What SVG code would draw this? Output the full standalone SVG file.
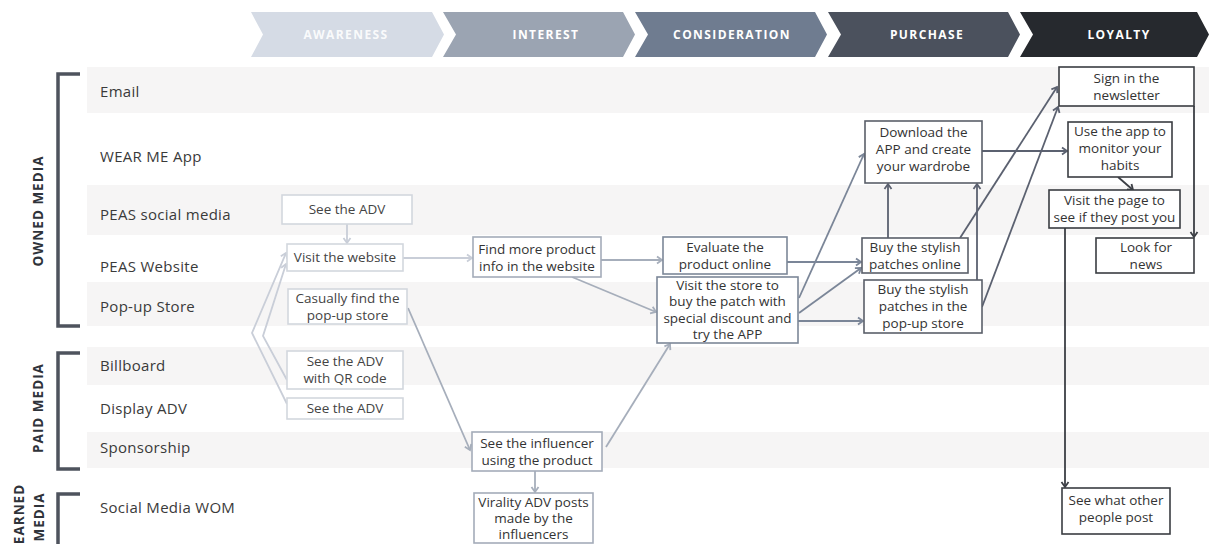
<svg xmlns="http://www.w3.org/2000/svg" width="1209" height="544" viewBox="0 0 1209 544">
  <style>
    .band { fill: #f6f5f5; }
    .row { font-family: "Open Sans", "Noto Sans", sans-serif; font-size: 15px; fill: #3a3a3a; letter-spacing: 0.3px; }
    .stage { font-family: "Open Sans", "Noto Sans", sans-serif; font-size: 12px; font-weight: 700; fill: #ffffff; text-anchor: middle; letter-spacing: 1.4px; }
    .group { font-family: "Open Sans", "Noto Sans", sans-serif; font-size: 13.5px; font-weight: 700; fill: #2f333a; text-anchor: middle; letter-spacing: 1px; }
    .bracket { fill: none; stroke: #4e535d; stroke-width: 3.5; }
    .box { fill: #ffffff; stroke-width: 1.6; }
    .aw { stroke: #d3d7de; }
    .in { stroke: #a4acb9; }
    .co { stroke: #7c8798; }
    .pu { stroke: #5a5f69; }
    .lo { stroke: #3a3d42; }
    .lbl { font-family: "Open Sans", "Noto Sans", sans-serif; font-size: 13.5px; fill: #333333; text-anchor: middle; }
    .lbl.light { fill: #444444; }
    .edge { fill: none; stroke-width: 1.8; }
    .e1 { stroke: #c9ced8; marker-end: url(#ah1); }
    .e2 { stroke: #a6aebb; marker-end: url(#ah2); }
    .e3 { stroke: #7b8698; marker-end: url(#ah3); }
    .e4 { stroke: #5b6170; marker-end: url(#ah4); }
    .e5 { stroke: #3c3f45; marker-end: url(#ah5); }
  </style>
  <defs>
    <marker id="ah1" markerWidth="10" markerHeight="10" refX="8" refY="5" orient="auto" markerUnits="userSpaceOnUse"><path d="M3,1.5 L8,5 L3,8.5" fill="none" stroke="#c9ced8" stroke-width="1.8"/></marker>
    <marker id="ah2" markerWidth="10" markerHeight="10" refX="8" refY="5" orient="auto" markerUnits="userSpaceOnUse"><path d="M3,1.5 L8,5 L3,8.5" fill="none" stroke="#a6aebb" stroke-width="1.8"/></marker>
    <marker id="ah3" markerWidth="10" markerHeight="10" refX="8" refY="5" orient="auto" markerUnits="userSpaceOnUse"><path d="M3,1.5 L8,5 L3,8.5" fill="none" stroke="#7b8698" stroke-width="1.8"/></marker>
    <marker id="ah4" markerWidth="10" markerHeight="10" refX="8" refY="5" orient="auto" markerUnits="userSpaceOnUse"><path d="M3,1.5 L8,5 L3,8.5" fill="none" stroke="#5b6170" stroke-width="1.8"/></marker>
    <marker id="ah5" markerWidth="10" markerHeight="10" refX="8" refY="5" orient="auto" markerUnits="userSpaceOnUse"><path d="M3,1.5 L8,5 L3,8.5" fill="none" stroke="#3c3f45" stroke-width="1.8"/></marker>
  </defs>

  <rect width="1209" height="544" fill="#ffffff"/>

  <!-- row bands -->
  <g id="bands">
    <rect class="band" x="87" y="67" width="1122" height="46"/>
    <rect class="band" x="87" y="185" width="1122" height="50"/>
    <rect class="band" x="87" y="282" width="1122" height="44"/>
    <rect class="band" x="87" y="347" width="1122" height="38"/>
    <rect class="band" x="87" y="432" width="1122" height="36"/>
  </g>

  <!-- stage chevrons -->
  <g id="stages">
    <path d="M251,12 H432 L444,34.5 L432,57 H251 L263,34.5 Z" fill="#d5dbe5"/>
    <text class="stage" x="346" y="39" fill-opacity="0.9">AWARENESS</text>
    <path d="M443,12 H623 L635,34.5 L623,57 H443 L456,34.5 Z" fill="#9ba4b2"/>
    <text class="stage" x="546" y="39">INTEREST</text>
    <path d="M635,12 H815 L827,34.5 L815,57 H635 L648,34.5 Z" fill="#6f7c90"/>
    <text class="stage" x="732" y="39">CONSIDERATION</text>
    <path d="M828,12 H1008 L1020,34.5 L1008,57 H828 L841,34.5 Z" fill="#4b515d"/>
    <text class="stage" x="927" y="39">PURCHASE</text>
    <path d="M1020,12 H1197 L1209,34.5 L1197,57 H1020 L1033,34.5 Z" fill="#26292e"/>
    <text class="stage" x="1119" y="39">LOYALTY</text>
  </g>

  <!-- row labels -->
  <g id="rows">
    <text class="row" x="100" y="97">Email</text>
    <text class="row" x="100" y="162">WEAR ME App</text>
    <text class="row" x="100" y="220">PEAS social media</text>
    <text class="row" x="100" y="272">PEAS Website</text>
    <text class="row" x="100" y="312">Pop-up Store</text>
    <text class="row" x="100" y="371">Billboard</text>
    <text class="row" x="100" y="414">Display ADV</text>
    <text class="row" x="100" y="453">Sponsorship</text>
    <text class="row" x="100" y="513">Social Media WOM</text>
  </g>

  <!-- media groups -->
  <g id="owned-media">
    <path class="bracket" d="M80,74 H58 V326 H80"/>
    <text class="group" transform="translate(43,211) rotate(-90)">OWNED MEDIA</text>
  </g>
  <g id="paid-media">
    <path class="bracket" d="M80,353 H58 V469 H80"/>
    <text class="group" transform="translate(43,408) rotate(-90)">PAID MEDIA</text>
  </g>
  <g id="earned-media">
    <path class="bracket" d="M80,494 H58 V546"/>
    <text class="group" transform="translate(24,514) rotate(-90)">EARNED</text>
    <text class="group" transform="translate(44,517) rotate(-90)">MEDIA</text>
  </g>

  <!-- connectors -->
  <g id="connectors">
    <path class="edge e1" d="M347,224 V243"/>
    <path class="edge e1" d="M287,404 L252,333 L286,253"/>
    <path class="edge e1" d="M287,380 L263,336 L286,264"/>
    <path class="edge e1" d="M403,258 H472"/>
    <path class="edge e2" d="M408,308 L470,450"/>
    <path class="edge e2" d="M601,260 H662"/>
    <path class="edge e2" d="M572,277 L656,312"/>
    <path class="edge e2" d="M606,447 L670,344"/>
    <path class="edge e2" d="M535,471 V492"/>
    <path class="edge e3" d="M787,262 H861"/>
    <path class="edge e3" d="M799,298 L864,154"/>
    <path class="edge e3" d="M799,313 L861,268"/>
    <path class="edge e3" d="M798,321 H863"/>
    <path class="edge e4" d="M888,238 V184"/>
    <path class="edge e4" d="M977,280 V184"/>
    <path class="edge e4" d="M982,151 H1067"/>
    <path class="edge e4" d="M960,238 L1057,87"/>
    <path class="edge e4" d="M982,307 L1058,107"/>
    <path class="edge e5" d="M1118,177 L1133,190"/>
    <path class="edge e5" d="M1194,106 V237"/>
    <path class="edge e5" d="M1065,228 V487"/>
  </g>

  <!-- awareness -->
  <g id="see-adv-social">
    <rect class="box aw" x="282" y="195" width="130" height="29"/>
    <text class="lbl light" x="347" y="214">See the ADV</text>
  </g>
  <g id="visit-website">
    <rect class="box aw" x="287" y="244" width="116" height="27"/>
    <text class="lbl light" x="345" y="262">Visit the website</text>
  </g>
  <g id="find-popup">
    <rect class="box aw" x="288" y="289" width="119" height="35"/>
    <text class="lbl light" x="347.5" y="303">Casually find the</text>
    <text class="lbl light" x="347.5" y="320">pop-up store</text>
  </g>
  <g id="see-adv-qr">
    <rect class="box aw" x="287" y="351" width="116" height="38"/>
    <text class="lbl light" x="345" y="366">See the ADV</text>
    <text class="lbl light" x="345" y="383">with QR code</text>
  </g>
  <g id="see-adv-display">
    <rect class="box aw" x="287" y="398" width="116" height="21"/>
    <text class="lbl light" x="345" y="413">See the ADV</text>
  </g>

  <!-- interest -->
  <g id="find-info">
    <rect class="box in" x="473" y="237" width="128" height="40"/>
    <text class="lbl" x="537" y="254">Find more product</text>
    <text class="lbl" x="537" y="271">info in the website</text>
  </g>
  <g id="see-influencer">
    <rect class="box in" x="472" y="432" width="130" height="39"/>
    <text class="lbl" x="537" y="448">See the influencer</text>
    <text class="lbl" x="537" y="465">using the product</text>
  </g>
  <g id="virality-posts">
    <rect class="box in" x="474" y="493" width="119" height="50"/>
    <text class="lbl" x="533.5" y="507">Virality ADV posts</text>
    <text class="lbl" x="533.5" y="523">made by the</text>
    <text class="lbl" x="533.5" y="539">influencers</text>
  </g>

  <!-- consideration -->
  <g id="evaluate-online">
    <rect class="box co" x="663" y="237" width="124" height="37"/>
    <text class="lbl" x="725" y="252">Evaluate the</text>
    <text class="lbl" x="725" y="269">product online</text>
  </g>
  <g id="visit-store">
    <rect class="box co" x="657" y="277" width="141" height="66"/>
    <text class="lbl" x="727.5" y="290">Visit the store to</text>
    <text class="lbl" x="727.5" y="306">buy the patch with</text>
    <text class="lbl" x="727.5" y="323">special discount and</text>
    <text class="lbl" x="727.5" y="339">try the APP</text>
  </g>

  <!-- purchase -->
  <g id="download-app">
    <rect class="box pu" x="865" y="121" width="117" height="62"/>
    <text class="lbl" x="923.5" y="137">Download the</text>
    <text class="lbl" x="923.5" y="154">APP and create</text>
    <text class="lbl" x="923.5" y="171">your wardrobe</text>
  </g>
  <g id="buy-online">
    <rect class="box pu" x="862" y="238" width="106" height="35"/>
    <text class="lbl" x="915" y="252">Buy the stylish</text>
    <text class="lbl" x="915" y="269">patches online</text>
  </g>
  <g id="buy-popup">
    <rect class="box pu" x="864" y="280" width="118" height="53"/>
    <text class="lbl" x="923" y="294">Buy the stylish</text>
    <text class="lbl" x="923" y="311">patches in the</text>
    <text class="lbl" x="923" y="328">pop-up store</text>
  </g>

  <!-- loyalty -->
  <g id="newsletter">
    <rect class="box lo" x="1059" y="67" width="135" height="39"/>
    <text class="lbl" x="1126.5" y="83">Sign in the</text>
    <text class="lbl" x="1126.5" y="100">newsletter</text>
  </g>
  <g id="monitor-habits">
    <rect class="box lo" x="1068" y="122" width="104" height="55"/>
    <text class="lbl" x="1120" y="136">Use the app to</text>
    <text class="lbl" x="1120" y="153">monitor your</text>
    <text class="lbl" x="1120" y="170">habits</text>
  </g>
  <g id="visit-page">
    <rect class="box lo" x="1049" y="190" width="131" height="38"/>
    <text class="lbl" x="1114.5" y="205">Visit the page to</text>
    <text class="lbl" x="1114.5" y="222">see if they post you</text>
  </g>
  <g id="look-news">
    <rect class="box lo" x="1096" y="238" width="98" height="35"/>
    <text class="lbl" x="1146" y="252">Look for</text>
    <text class="lbl" x="1146" y="269">news</text>
  </g>
  <g id="see-others">
    <rect class="box lo" x="1062" y="488" width="108" height="46"/>
    <text class="lbl" x="1116" y="505">See what other</text>
    <text class="lbl" x="1116" y="522">people post</text>
  </g>
</svg>
